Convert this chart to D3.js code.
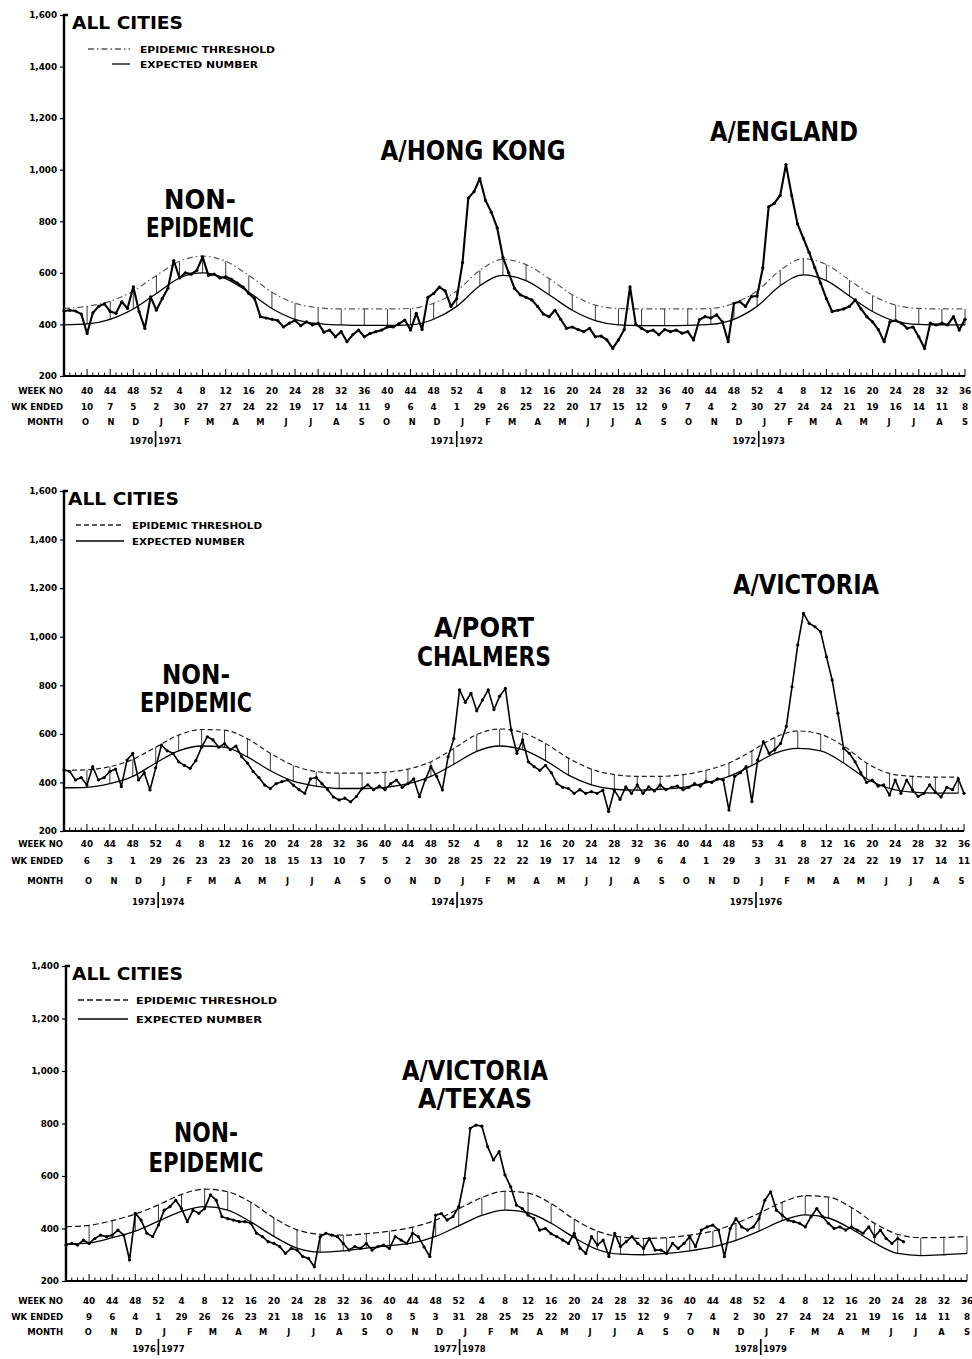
<!DOCTYPE html>
<html><head><meta charset="utf-8">
<script src="https://cdn.jsdelivr.net/npm/d3@7"></script>
<style>body{margin:0;background:#fff}svg{display:block}</style>
</head><body>
<svg id="c" width="972" height="1359"></svg>
<script>
// ---------------- DATA ----------------
// Observed weekly deaths, index 0 = first value at week index -4 (week 40 = index 0)
const p1Observed = [452,455,452,440,365,445,470,480,450,443,488,462,546,450,385,507,455,500,540,648,580,600,595,610,662,590,595,580,585,575,560,545,520,500,430,425,420,415,390,405,415,395,410,398,405,370,378,352,372,333,360,378,352,365,372,378,390,390,403,417,378,443,380,505,520,545,530,470,500,640,890,915,966,880,835,775,660,600,540,515,505,495,470,440,430,455,420,385,390,380,372,385,352,355,340,307,340,380,546,400,385,372,378,360,380,372,378,366,372,340,418,430,425,437,410,333,482,488,470,508,510,620,856,870,900,1020,900,790,735,680,620,560,500,450,455,460,470,495,460,430,410,380,333,410,415,405,385,390,352,307,405,398,405,398,430,378,420];
const p2Observed = [451,445,410,420,389,465,410,420,445,455,383,492,520,410,440,369,460,554,530,520,485,470,458,490,545,588,575,545,560,535,550,506,480,445,420,389,375,395,403,410,389,370,355,415,420,395,370,340,328,335,320,342,375,390,370,385,370,395,410,380,395,415,341,410,465,425,369,505,580,781,730,767,695,739,781,700,755,787,616,520,575,485,465,450,470,440,395,380,375,355,370,355,362,355,368,280,368,330,382,355,390,355,382,365,390,370,380,385,370,380,395,385,405,400,415,410,286,425,440,465,321,492,568,520,535,560,630,794,966,1096,1055,1041,1020,918,822,685,540,520,485,440,400,410,385,390,348,410,355,410,370,342,355,390,360,340,380,370,415,355];
const p3Observed = [337,343,337,356,343,362,375,369,375,394,375,280,458,432,382,369,413,470,483,508,476,426,470,458,476,528,508,445,438,432,426,426,420,382,369,350,343,331,305,324,318,293,286,254,368,382,375,369,343,318,331,324,343,318,331,337,324,369,356,343,382,369,330,293,451,457,432,445,483,591,782,794,790,712,661,693,604,559,489,476,451,438,394,400,380,369,356,343,382,325,305,369,337,356,293,382,331,350,369,343,324,362,318,318,305,343,324,343,369,331,394,406,413,394,293,400,438,406,394,406,438,508,540,470,451,432,426,420,406,445,476,445,420,400,406,394,406,394,382,406,369,394,362,343,362,350];

// Expected number and epidemic threshold, every 4 weeks from week index -4
const p1Expected  = [398,402,420,460,520,580,600,578,525,462,420,403,398,396,396,398,420,470,550,590,570,515,455,415,398,395,395,396,400,420,470,550,592,570,510,450,412,400,398,398];
const p1Threshold = [462,470,490,530,590,645,665,645,590,525,482,465,460,460,460,462,482,530,610,652,632,578,515,475,462,460,460,460,462,482,530,610,655,632,572,512,475,462,460,460];
const p2Expected  = [378,380,395,425,480,530,550,545,505,448,405,385,375,375,380,395,425,475,528,550,535,490,430,390,372,368,372,380,398,425,470,520,540,530,480,415,375,360,356,356];
const p2Threshold = [450,452,465,495,545,595,618,615,580,520,470,445,438,438,442,455,485,540,597,620,605,560,500,455,432,425,425,432,450,480,530,585,612,598,550,480,437,425,422,422];
const p3Expected  = [340,345,365,390,428,465,483,470,425,370,325,310,315,325,335,345,370,410,450,470,460,420,365,320,302,300,305,315,330,355,390,430,452,440,398,345,305,297,300,305];
const p3Threshold = [407,412,430,455,490,530,550,540,500,440,395,378,375,380,390,405,432,475,518,542,535,495,435,390,368,362,365,375,390,420,458,500,525,520,480,420,378,365,366,370];

// Axis labels
const p1WeekNo   = [40,44,48,52,4,8,12,16,20,24,28,32,36,40,44,48,52,4,8,12,16,20,24,28,32,36,40,44,48,52,4,8,12,16,20,24,28,32,36];
const p1WkEnded  = [10,7,5,2,30,27,27,24,22,19,17,14,11,9,6,4,1,29,26,25,22,20,17,15,12,9,7,4,2,30,27,24,24,21,19,16,14,11,8];
const p2WeekNo   = [40,44,48,52,4,8,12,16,20,24,28,32,36,40,44,48,52,4,8,12,16,20,24,28,32,36,40,44,48,53,4,8,12,16,20,24,28,32,36];
const p2WkEnded  = [6,3,1,29,26,23,23,20,18,15,13,10,7,5,2,30,28,25,22,22,19,17,14,12,9,6,4,1,29,3,31,28,27,24,22,19,17,14,11];
const p3WeekNo   = [40,44,48,52,4,8,12,16,20,24,28,32,36,40,44,48,52,4,8,12,16,20,24,28,32,36,40,44,48,52,4,8,12,16,20,24,28,32,36];
const p3WkEnded  = [9,6,4,1,29,26,26,23,21,18,16,13,10,8,5,3,31,28,25,25,22,20,17,15,12,9,7,4,2,30,27,24,24,21,19,16,14,11,8];
const monthLetters = ["O","N","D","J","F","M","A","M","J","J","A","S","O","N","D","J","F","M","A","M","J","J","A","S","O","N","D","J","F","M","A","M","J","J","A","S"];
const p1Years = [[1970,1971],[1971,1972],[1972,1973]];
const p2Years = [[1973,1974],[1974,1975],[1975,1976]];
const p3Years = [[1976,1977],[1977,1978],[1978,1979]];
const p1Notes = [["NON-","EPIDEMIC"],["A/HONG KONG"],["A/ENGLAND"]];
const p2Notes = [["NON-","EPIDEMIC"],["A/PORT","CHALMERS"],["A/VICTORIA"]];
const p3Notes = [["NON-","EPIDEMIC"],["A/VICTORIA","A/TEXAS"]];
const titleText = "ALL CITIES";
const legendTexts = ["EPIDEMIC THRESHOLD","EXPECTED NUMBER"];
const rowTitles = ["WEEK NO","WK ENDED","MONTH"];

// ---------------- LAYOUT ----------------
const panels = [
  {obs:p1Observed, exp:p1Expected, thr:p1Threshold, weekNo:p1WeekNo, wkEnded:p1WkEnded, years:p1Years, notes:p1Notes,
   start:[1970,9,10], yMax:1600, top:15, bottom:376, left:64, right:965, kMax:152, obsW:2.1,
   rows:[394,410,425,444], title:[72,29], leg:{x1:[88,112], x2:130, y:[49,64], tx:140, tw:[135,118]}, dash:"6,3,1.5,3", thrColor:"#555",
   notePos:[[200,[209,237]],[473,[160]],[784,[141]]], noteW:[[72,108],[185],[148]]},
  {obs:p2Observed, exp:p2Expected, thr:p2Threshold, weekNo:p2WeekNo, wkEnded:p2WkEnded, years:p2Years, notes:p2Notes,
   start:[1973,9,6], yMax:1600, top:491, bottom:831, left:64, right:964, kMax:153, obsW:1.6,
   rows:[847,864,884,905], title:[68,505], leg:{x1:[76,76], x2:124, y:[525,541], tx:132, tw:[130,113]}, dash:"5,3", thrColor:"#222",
   notePos:[[196,[684,712]],[484,[637,666]],[806,[594]]], noteW:[[68,112],[100,134],[146]]},
  {obs:p3Observed, exp:p3Expected, thr:p3Threshold, weekNo:p3WeekNo, wkEnded:p3WkEnded, years:p3Years, notes:p3Notes,
   start:[1976,9,9], yMax:1400, top:966, bottom:1281, left:66, right:967, kMax:152, obsW:1.7,
   rows:[1304,1320,1335,1352], title:[72,980], leg:{x1:[78,78], x2:128, y:[1000,1019], tx:136, tw:[141,126]}, dash:"6,3", thrColor:"#111",
   notePos:[[206,[1142,1172]],[475,[1080,1108]]], noteW:[[64,115],[146,114]]}
];

const svg = d3.select("#c");
const DAY = 864e5;
const LAB = "'DejaVu Sans', sans-serif";
const NOTE = "'DejaVu Sans Condensed','Liberation Sans Narrow','Liberation Sans',sans-serif";

panels.forEach(p => {
  const x = d3.scaleLinear().domain([-4, p.kMax]).range([p.left, p.right]);
  const y = d3.scaleLinear().domain([200, p.yMax]).range([p.bottom, p.top]);
  const g = svg.append("g");
  const start = Date.UTC(p.start[0], p.start[1], p.start[2]);
  const kOfDate = d => (d - start) / (7 * DAY);

  // y axis
  const ya = d3.axisLeft(y).tickValues(d3.range(200, p.yMax + 1, 200))
    .tickFormat(d3.format(",")).tickSize(4).tickSizeOuter(0).tickPadding(3);
  const yg = g.append("g").attr("transform", `translate(${p.left},0)`).call(ya);
  yg.select(".domain").attr("stroke-width", 2.4).attr("d", `M0,${p.bottom}V${p.top}h4`);
  yg.selectAll(".tick line").attr("stroke-width", 1.2);
  yg.selectAll("text").attr("font-family", LAB).attr("font-weight", "bold").attr("font-size", 8.8).attr("fill", "#000");

  // bottom axis
  g.append("line").attr("x1", p.left - 1).attr("x2", p.right).attr("y1", p.bottom).attr("y2", p.bottom)
    .attr("stroke", "#000").attr("stroke-width", 2.2);
  const labelK = [];
  let k = 0;
  p.weekNo.forEach((w, i) => {
    if (i > 0) { let d = w - p.weekNo[i - 1]; if (d <= 0) d += p.weekNo[i - 1]; k += d; }
    labelK.push(k);
  });
  const majorSet = new Set(labelK);
  g.selectAll(".wt").data(d3.range(-3, p.kMax + 1)).join("line")
    .attr("x1", d => x(d)).attr("x2", d => x(d))
    .attr("y1", p.bottom).attr("y2", d => p.bottom - (majorSet.has(d) ? 7 : 3.5))
    .attr("stroke", "#000").attr("stroke-width", 1);

  rowTitles.forEach((t, i) => {
    g.append("text").attr("x", 63).attr("y", p.rows[i]).attr("text-anchor", "end")
      .attr("font-family", LAB).attr("font-weight", "bold").attr("font-size", 8.5).text(t);
  });
  g.selectAll(".wn").data(p.weekNo).join("text")
    .attr("x", (d, i) => x(labelK[i])).attr("y", p.rows[0]).attr("text-anchor", "middle")
    .attr("font-family", LAB).attr("font-weight", "bold").attr("font-size", 8.8).text(d => d);
  g.selectAll(".we").data(p.wkEnded).join("text")
    .attr("x", (d, i) => x(labelK[i])).attr("y", p.rows[1]).attr("text-anchor", "middle")
    .attr("font-family", LAB).attr("font-weight", "bold").attr("font-size", 8.8).text(d => d);
  g.selectAll(".mo").data(monthLetters).join("text")
    .attr("x", (d, i) => x(kOfDate(Date.UTC(p.start[0], 9 + i, 8)))).attr("y", p.rows[2]).attr("text-anchor", "middle")
    .attr("font-family", LAB).attr("font-weight", "bold").attr("font-size", 8.3).text(d => d);
  p.years.forEach(([a, b]) => {
    const xs = x(kOfDate(Date.UTC(b, 0, 1)));
    g.append("text").attr("x", xs - 2.5).attr("y", p.rows[3]).attr("text-anchor", "end")
      .attr("font-family", LAB).attr("font-weight", "bold").attr("font-size", 8.5).text(a);
    g.append("text").attr("x", xs + 2.5).attr("y", p.rows[3]).attr("text-anchor", "start")
      .attr("font-family", LAB).attr("font-weight", "bold").attr("font-size", 8.5).text(b);
    g.append("line").attr("x1", xs).attr("x2", xs).attr("y1", p.rows[3] - 13).attr("y2", p.rows[3] + 3)
      .attr("stroke", "#000").attr("stroke-width", 1.6);
  });

  // title + legend
  g.append("text").attr("x", p.title[0]).attr("y", p.title[1]).attr("font-family", LAB)
    .attr("font-size", 17).attr("font-weight", "bold").attr("textLength", 111).attr("lengthAdjust", "spacingAndGlyphs").text(titleText);
  g.append("line").attr("x1", p.leg.x1[0]).attr("x2", p.leg.x2).attr("y1", p.leg.y[0]).attr("y2", p.leg.y[0])
    .attr("stroke", p.thrColor).attr("stroke-width", 1.3).attr("stroke-dasharray", p.dash);
  g.append("line").attr("x1", p.leg.x1[1]).attr("x2", p.leg.x2).attr("y1", p.leg.y[1]).attr("y2", p.leg.y[1])
    .attr("stroke", "#000").attr("stroke-width", 1.3);
  legendTexts.forEach((t, i) => {
    g.append("text").attr("x", p.leg.tx).attr("y", p.leg.y[i] + 3.5).attr("font-family", LAB).attr("font-weight", "bold")
      .attr("font-size", 9).attr("textLength", p.leg.tw[i]).attr("lengthAdjust", "spacingAndGlyphs").text(t);
  });

  // expected, threshold, comb
  const kk = p.exp.map((_, i) => -4 + 4 * i);
  const smooth = d3.line().x((d, i) => x(kk[i])).y(d => y(d)).curve(d3.curveMonotoneX);
  g.selectAll(".comb").data(kk.filter(v => v > -4 && v <= p.kMax)).join("line")
    .attr("x1", d => x(d)).attr("x2", d => x(d))
    .attr("y1", d => y(p.exp[kk.indexOf(d)])).attr("y2", d => y(p.thr[kk.indexOf(d)]))
    .attr("stroke", "#222").attr("stroke-width", 0.9);
  g.append("path").attr("d", smooth(p.thr)).attr("fill", "none").attr("stroke", p.thrColor)
    .attr("stroke-width", 1.2).attr("stroke-dasharray", p.dash);
  g.append("path").attr("d", smooth(p.exp)).attr("fill", "none").attr("stroke", "#000").attr("stroke-width", 1.3);

  // observed
  const obsLine = d3.line().x((d, i) => x(i - 4)).y(d => y(d));
  g.append("path").attr("d", obsLine(p.obs)).attr("fill", "none").attr("stroke", "#000")
    .attr("stroke-width", p.obsW).attr("stroke-linejoin", "round");
  g.selectAll(".dot").data(p.obs).join("circle").attr("cx", (d, i) => x(i - 4)).attr("cy", d => y(d))
    .attr("r", 1.6).attr("fill", "#000");

  // annotations
  p.notes.forEach((lines, j) => {
    const [cx, ys] = p.notePos[j];
    lines.forEach((t, li) => {
      g.append("text").attr("x", cx).attr("y", ys[li]).attr("text-anchor", "middle")
        .attr("font-family", NOTE).attr("font-weight", "bold").attr("font-size", 26)
        .attr("textLength", p.noteW[j][li]).attr("lengthAdjust", "spacingAndGlyphs").text(t);
    });
  });
});
</script>
</body></html>
